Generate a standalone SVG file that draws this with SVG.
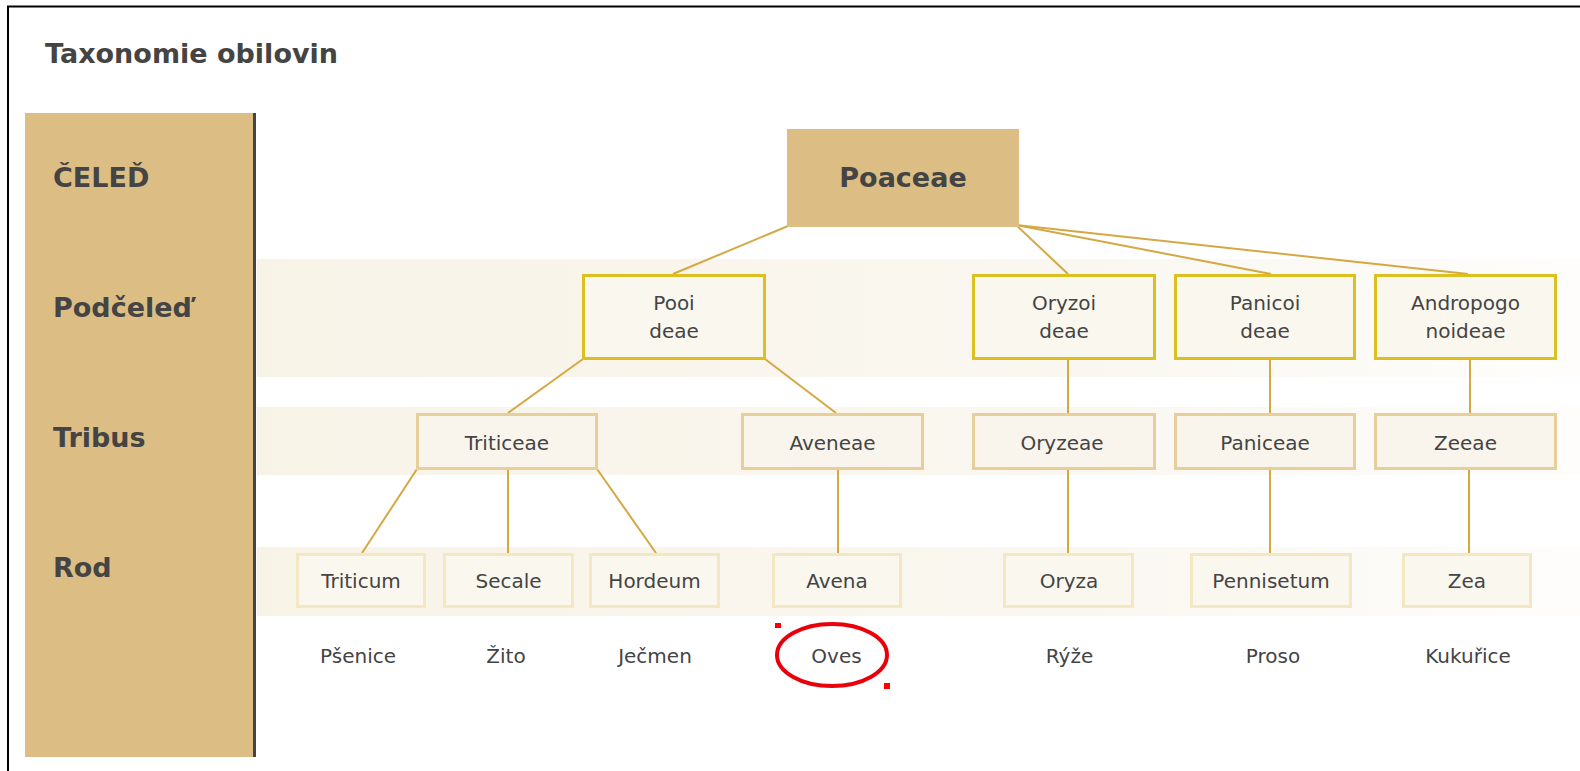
<svg xmlns="http://www.w3.org/2000/svg" width="1580" height="771" viewBox="0 0 1580 771">
<defs>
<linearGradient id="band" x1="0" y1="0" x2="1" y2="0">
<stop offset="0" stop-color="#f8f3e7"/>
<stop offset="0.6" stop-color="#faf7f0"/>
<stop offset="1" stop-color="#fefdfb"/>
</linearGradient>
<style>
text{font-family:"DejaVu Sans","Verdana",sans-serif;fill:#444;text-anchor:middle;font-size:20px}
.hd{font-weight:bold;font-size:27px;text-anchor:start}
.sub rect{fill:#faf7ef;stroke:#dcc020;stroke-width:3}
.tri rect{fill:#f9f5ec;stroke:#e6cf9b;stroke-width:3}
.rod rect{fill:#faf7ef;stroke:#f3e8c2;stroke-width:3}
.conn line{stroke:#d4a843;stroke-width:2}
.band{fill:url(#band)}
</style>
</defs>
<rect width="1580" height="771" fill="#fff"/>
<path d="M8 771V6.5H1580" fill="none" stroke="#000" stroke-width="2"/>
<text class="hd" x="45" y="63">Taxonomie obilovin</text>
<g id="levels">
<rect x="25" y="113" width="229" height="644" fill="#dcbe84"/>
<line x1="254.5" y1="113" x2="254.5" y2="757" stroke="#454545" stroke-width="3"/>
<text class="hd" x="53" y="187">ČELEĎ</text>
<text class="hd" x="53" y="317">Podčeleď</text>
<text class="hd" x="53" y="447">Tribus</text>
<text class="hd" x="53" y="577">Rod</text>
</g>
<g id="bands">
<rect class="band" x="257" y="259" width="1323" height="118"/>
<rect class="band" x="257" y="407" width="1323" height="68"/>
<rect class="band" x="257" y="547" width="1323" height="69"/>
</g>
<g id="connectors" class="conn">
<line x1="788" y1="226" x2="673" y2="274"/>
<line x1="1016" y1="225" x2="1068" y2="274"/>
<line x1="1016" y1="225" x2="1271" y2="274"/>
<line x1="1016" y1="225" x2="1468" y2="274"/>
<line x1="583" y1="359" x2="508" y2="413"/>
<line x1="765" y1="359" x2="836" y2="413"/>
<line x1="1068" y1="359" x2="1068" y2="413"/>
<line x1="1270" y1="359" x2="1270" y2="413"/>
<line x1="1470" y1="359" x2="1470" y2="413"/>
<line x1="417" y1="469" x2="362" y2="553"/>
<line x1="508" y1="469" x2="508" y2="553"/>
<line x1="597" y1="469" x2="656" y2="553"/>
<line x1="838" y1="469" x2="838" y2="553"/>
<line x1="1068" y1="469" x2="1068" y2="553"/>
<line x1="1270" y1="469" x2="1270" y2="553"/>
<line x1="1469" y1="469" x2="1469" y2="553"/>
</g>
<g id="poaceae">
<rect x="787" y="129" width="232" height="98" fill="#dcbe84"/>
<text x="903" y="187" style="font-weight:bold;font-size:27px">Poaceae</text>
</g>
<g id="pooideae" class="sub">
<rect x="583.5" y="275.5" width="181" height="83"/>
<text x="674" y="310">Pooi</text><text x="674" y="338">deae</text>
</g>
<g id="oryzoideae" class="sub">
<rect x="973.5" y="275.5" width="181" height="83"/>
<text x="1064" y="310">Oryzoi</text><text x="1064" y="338">deae</text>
</g>
<g id="panicoideae" class="sub">
<rect x="1175.5" y="275.5" width="179" height="83"/>
<text x="1265" y="310">Panicoi</text><text x="1265" y="338">deae</text>
</g>
<g id="andropogonoideae" class="sub">
<rect x="1375.5" y="275.5" width="180" height="83"/>
<text x="1465.5" y="310">Andropogo</text><text x="1465.5" y="338">noideae</text>
</g>
<g id="triticeae" class="tri">
<rect x="417.5" y="414.5" width="179" height="54"/>
<text x="507" y="450">Triticeae</text>
</g>
<g id="aveneae" class="tri">
<rect x="742.5" y="414.5" width="180" height="54"/>
<text x="832.5" y="450">Aveneae</text>
</g>
<g id="oryzeae" class="tri">
<rect x="973.5" y="414.5" width="181" height="54"/>
<text x="1062" y="450">Oryzeae</text>
</g>
<g id="paniceae" class="tri">
<rect x="1175.5" y="414.5" width="179" height="54"/>
<text x="1265" y="450">Paniceae</text>
</g>
<g id="zeeae" class="tri">
<rect x="1375.5" y="414.5" width="180" height="54"/>
<text x="1465.5" y="450">Zeeae</text>
</g>
<g id="triticum" class="rod">
<rect x="297.5" y="554.5" width="127" height="52"/>
<text x="361" y="588">Triticum</text>
</g>
<g id="secale" class="rod">
<rect x="444.5" y="554.5" width="128" height="52"/>
<text x="508.5" y="588">Secale</text>
</g>
<g id="hordeum" class="rod">
<rect x="590.5" y="554.5" width="128" height="52"/>
<text x="654.5" y="588">Hordeum</text>
</g>
<g id="avena" class="rod">
<rect x="773.5" y="554.5" width="127" height="52"/>
<text x="837" y="588">Avena</text>
</g>
<g id="oryza" class="rod">
<rect x="1004.5" y="554.5" width="128" height="52"/>
<text x="1069" y="588">Oryza</text>
</g>
<g id="pennisetum" class="rod">
<rect x="1191.5" y="554.5" width="159" height="52"/>
<text x="1271" y="588">Pennisetum</text>
</g>
<g id="zea" class="rod">
<rect x="1403.5" y="554.5" width="127" height="52"/>
<text x="1467" y="588">Zea</text>
</g>
<g id="common-names">
<text x="358" y="663">Pšenice</text>
<text x="506" y="663">Žito</text>
<text x="655" y="663">Ječmen</text>
<text x="836.5" y="663">Oves</text>
<text x="1069.5" y="663">Rýže</text>
<text x="1273" y="663">Proso</text>
<text x="1468" y="663">Kukuřice</text>
</g>
<g id="highlight">
<ellipse cx="832" cy="655" rx="55" ry="31" fill="none" stroke="#e8000b" stroke-width="4"/>
<rect x="775" y="623" width="6" height="5" fill="#f00"/>
<rect x="884" y="683" width="6" height="6" fill="#f00"/>
</g>
</svg>
